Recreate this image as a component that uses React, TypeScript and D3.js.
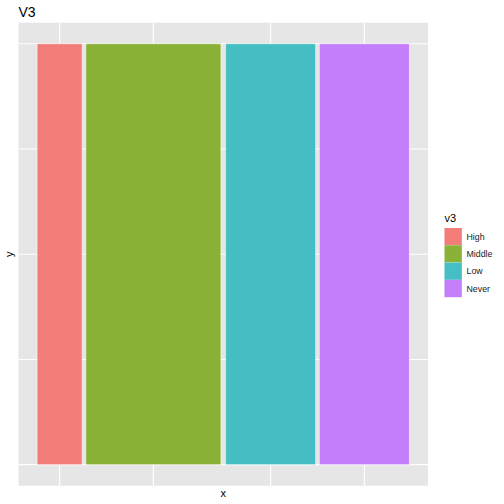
import React from "react";
import * as d3 from "d3";

const categories = ["High", "Middle", "Low", "Never"];
const proportions = [0.125, 0.375, 0.25, 0.25];
const colors = ["#F27772", "#84AE2C", "#3BBCC0", "#C277FC"];
const yBreaks = [0, 0.25, 0.5, 0.75, 1];

export default function App() {
  const W = 504, H = 504;
  const panel = { left: 18.5, right: 428, top: 22.7, bottom: 485.7 };

  const cum: number[] = [];
  let acc = 0;
  proportions.forEach((p) => { cum.push(acc + p / 2); acc += p; });
  const widthFactor = 0.96;
  const bars = categories.map((c, i) => ({
    cat: c,
    center: cum[i],
    w: proportions[i] * widthFactor,
    color: colors[i],
  }));
  const xmin = d3.min(bars, (b) => b.center - b.w / 2)!;
  const xmax = d3.max(bars, (b) => b.center + b.w / 2)!;
  const xr = xmax - xmin;
  const x = d3.scaleLinear().domain([xmin - 0.05 * xr, xmax + 0.05 * xr]).range([panel.left, panel.right]);
  const y = d3.scaleLinear().domain([-0.05, 1.05]).range([panel.bottom, panel.top]);

  const font = "Liberation Sans, Arial, sans-serif";
  const keyX = 444.5, keyY0 = 228, keySize = 17.3;

  return (
    <svg width={W} height={H} style={{ position: "absolute", left: 0, top: 0, background: "white" }}>
      <rect x={0} y={0} width={W} height={H} fill="white" />
      <rect x={panel.left} y={panel.top} width={panel.right - panel.left} height={panel.bottom - panel.top} fill="#E6E6E6" />
      {yBreaks.map((b) => (
        <line key={"y" + b} x1={panel.left} x2={panel.right} y1={y(b)} y2={y(b)} stroke="white" strokeWidth={1.1} />
      ))}
      {bars.map((b) => (
        <line key={"x" + b.cat} x1={x(b.center)} x2={x(b.center)} y1={panel.top} y2={panel.bottom} stroke="white" strokeWidth={1.1} />
      ))}
      {bars.map((b) => (
        <rect
          key={b.cat}
          x={x(b.center - b.w / 2)}
          y={y(1)}
          width={x(b.center + b.w / 2) - x(b.center - b.w / 2)}
          height={y(0) - y(1)}
          fill={b.color}
          fillOpacity={0.95}
          stroke="white"
          strokeOpacity={0.5}
          strokeWidth={1}
        />
      ))}
      <text x={18.5} y={17} fontFamily={font} fontSize={14} fill="black">V3</text>
      <text x={(panel.left + panel.right) / 2} y={497} fontFamily={font} fontSize={11} textAnchor="middle" fill="black">x</text>
      <text x={13.5} y={(panel.top + panel.bottom) / 2} fontFamily={font} fontSize={11} textAnchor="middle" fill="black"
        transform={`rotate(-90, 13.5, ${(panel.top + panel.bottom) / 2})`}>y</text>
      <text x={keyX} y={222} fontFamily={font} fontSize={11} fill="black">v3</text>
      {categories.map((c, i) => (
        <g key={"leg" + c}>
          <rect x={keyX} y={keyY0 + i * keySize} width={keySize} height={keySize} fill="#F2F2F2" />
          <rect x={keyX} y={keyY0 + i * keySize} width={keySize} height={keySize} fill={colors[i]} fillOpacity={0.95} />
          <text x={466.5} y={keyY0 + i * keySize + keySize / 2 + 3} fontFamily={font} fontSize={8.8} fill="#1A1A1A">{c}</text>
        </g>
      ))}
    </svg>
  );
}
